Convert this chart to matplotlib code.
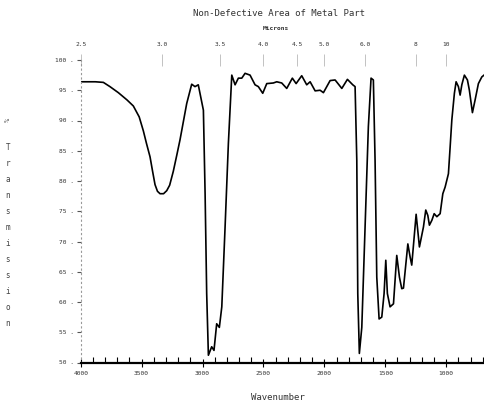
import matplotlib
matplotlib.use("Agg")
import matplotlib.pyplot as plt
import numpy as np

# spectrum (wavenumber cm-1, % transmission)
wavenumber = [4000, 3880, 3814, 3760, 3691, 3620, 3568, 3520, 3486, 3460, 3431, 3410,
              3390, 3370, 3349, 3320, 3294, 3270, 3240, 3210, 3185, 3130,
              3089, 3062, 3035, 2993, 2979, 2966, 2952, 2925, 2906, 2884, 2862, 2842,
              2815, 2788, 2760, 2733, 2706, 2678, 2651, 2610, 2569, 2542, 2506, 2473,
              2419, 2391, 2350, 2309, 2263, 2232, 2186, 2145, 2117, 2076, 2035, 2008,
              1953, 1912, 1857, 1811, 1767, 1748, 1734, 1726, 1713, 1693, 1666, 1639,
              1617, 1598, 1584, 1570, 1551, 1529, 1510, 1496, 1483, 1461, 1433, 1406,
              1384, 1365, 1351, 1315, 1296, 1283, 1247, 1220, 1187, 1168, 1151, 1138,
              1118, 1099, 1077, 1050, 1028, 1009, 982, 968, 954, 933, 919, 900, 886,
              872, 851, 826, 810, 785, 763, 736, 708, 690]
transmission = [96.4, 96.4, 96.3, 95.6, 94.6, 93.4, 92.4, 90.6, 88.3, 86.2, 84.0, 81.6,
                79.4, 78.3, 77.9, 77.9, 78.4, 79.3, 81.6, 84.4, 86.8, 92.8,
                96.0, 95.6, 95.9, 91.7, 77.9, 61.4, 51.2, 52.6, 52.0, 56.4, 55.8, 59.2,
                72.4, 86.2, 97.5, 95.9, 97.0, 97.0, 97.8, 97.5, 95.9, 95.6, 94.5, 96.1,
                96.2, 96.4, 96.2, 95.3, 97.0, 96.1, 97.4, 95.9, 96.4, 94.9, 95.0, 94.6,
                96.6, 96.7, 95.3, 96.8, 95.9, 95.6, 83.4, 61.4, 51.5, 55.8, 72.4, 89.0,
                97.0, 96.7, 83.4, 64.1, 57.2, 57.5, 61.4, 66.9, 61.4, 59.2, 59.7, 67.7,
                64.1, 62.2, 62.3, 69.6, 67.4, 66.1, 74.5, 69.1, 72.4, 75.2, 74.3, 72.7,
                73.5, 74.6, 74.1, 74.6, 77.9, 79.0, 81.2, 85.6, 90.1, 94.5, 96.4, 95.6,
                94.2, 95.9, 97.5, 96.7, 95.0, 91.3, 93.4, 96.1, 97.2, 97.5]

xticks = [4000, 3500, 3000, 2500, 2000, 1500, 1000]
yticks = [50, 55, 60, 65, 70, 75, 80, 85, 90, 95, 100]
micron_ticks = [2.5, 3.0, 3.5, 4.0, 4.5, 5.0, 6.0, 8, 10]
micron_labels = ["2.5", "3.0", "3.5", "4.0", "4.5", "5.0", "6.0", "8", "10"]

mono = "DejaVu Sans Mono"
plt.rcParams["font.family"] = mono

fig = plt.figure(figsize=(4.84, 4.07), dpi=100)
ax = fig.add_axes([80.7 / 484, 1 - 362.5 / 407, 1 - 80.7 / 484, (362.5 - 60) / 407])

ax.plot(wavenumber, transmission, color="black", lw=1.2, solid_joinstyle="round")

ax.set_xlim(4000, 690)
ax.set_ylim(50, 100)

for s in ["top", "right"]:
    ax.spines[s].set_visible(False)
ax.spines["left"].set_linestyle((0, (1, 3)))
ax.spines["left"].set_color("#999999")
ax.spines["left"].set_linewidth(0.8)
ax.spines["bottom"].set_linewidth(1.6)

ax.set_xticks(xticks)
ax.set_xticklabels([str(v) for v in xticks], fontsize=4.5, color="#333333")
ax.set_xticks(np.arange(700, 4001, 100), minor=True)
ax.tick_params(axis="x", which="major", direction="inout", length=6, width=0.8, pad=3)
ax.tick_params(axis="x", which="minor", direction="in", length=4, width=0.8)

ax.set_yticks(yticks)
ax.set_yticklabels([f"{v} ." for v in yticks], fontsize=4.5, color="#333333")
ax.tick_params(axis="y", which="major", direction="out", length=3, width=0.8,
               color="#555555", pad=2)

sec = ax.secondary_xaxis("top", functions=(lambda x: 1e4 / x, lambda x: 1e4 / x))
sec.set_xticks(micron_ticks)
sec.set_xticklabels(micron_labels, fontsize=4.5, color="#333333")
sec.spines["top"].set_visible(False)
sec.tick_params(axis="x", direction="inout", length=8, width=0.5, color="#aaaaaa", pad=5)
sec.xaxis.set_minor_locator(matplotlib.ticker.NullLocator())

fig.text(279 / 484, 1 - 13 / 407, "Non-Defective Area of Metal Part",
         ha="center", va="center", fontsize=6.5, color="#333333")
fig.text(276 / 484, 1 - 29 / 407, "Microns", ha="center", va="center",
         fontsize=4.5, fontweight="bold", color="#333333")
fig.text(278 / 484, 1 - 398 / 407, "Wavenumber", ha="center", va="center",
         fontsize=6.5, color="#333333")

fig.text(8 / 484, 1 - 120 / 407, "%", rotation=90, ha="center", va="center",
         fontsize=5, color="#444444")
fig.text(8 / 484, 1 - 236 / 407, "\n".join("Transmission"), ha="center", va="center",
         fontsize=5.5, color="#444444", linespacing=2.0)

fig.savefig("out.png", dpi=100)
